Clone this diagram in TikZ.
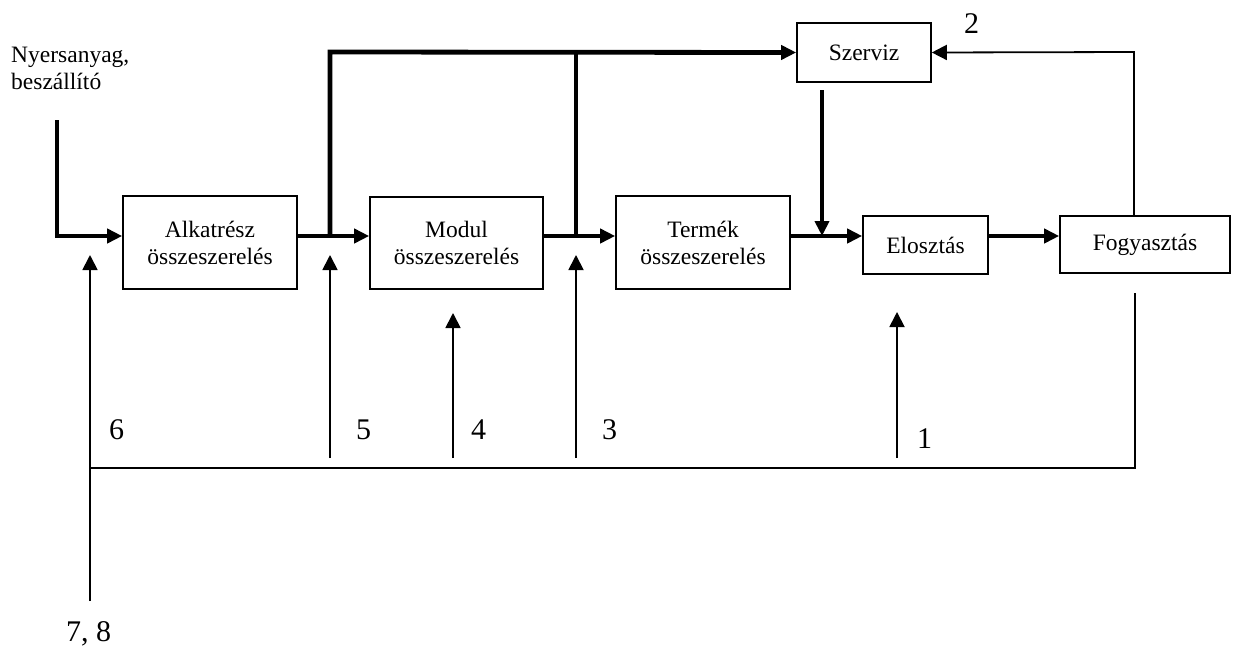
\documentclass[tikz,border=0pt]{standalone}
\usepackage{fontspec}
\setmainfont{Liberation Serif}
\usetikzlibrary{arrows.meta}
\begin{document}
\begin{tikzpicture}[x=1pt,y=-1pt,
  box/.style={draw,line width=1.6pt,inner sep=0pt,align=center,
    font=\fontsize{23.5}{27}\selectfont},
  flow/.style={line width=4.8pt,line join=miter,-{Triangle[length=15pt,width=14pt]}},
  flowplain/.style={line width=4.8pt,line join=miter},
  info/.style={line width=1.8pt,-{Triangle[length=15pt,width=15pt]}},
  infoplain/.style={line width=1.8pt},
  num/.style={anchor=base west,inner sep=0pt,font=\fontsize{30}{34}\selectfont},
  txt/.style={font=\fontsize{23.5}{27}\selectfont}]
\useasboundingbox (0,0) rectangle (1233,648);
% boxes
\node[box,minimum width=174pt,minimum height=93pt] (alk) at (210,242.5) {Alkatrész\\összeszerelés};
\node[box,minimum width=173pt,minimum height=92pt] (mod) at (456.5,243) {Modul\\összeszerelés};
\node[box,minimum width=174pt,minimum height=93pt] (ter) at (703,242.5) {Termék\\összeszerelés};
\node[box,minimum width=134pt,minimum height=59pt] (szv) at (864,52.5) {Szerviz};
\node[box,minimum width=125pt,minimum height=58pt] (elo) at (925.5,245) {Elosztás};
\node[box,minimum width=170pt,minimum height=57pt,text depth=4pt] (fog) at (1145,244.5) {Fogyasztás};
% labels
\node[txt,anchor=north west,align=left,inner sep=0pt] (nyers) at (11,47) {Nyersanyag,\\beszállító};
\node[num] (n2) at (964,33) {2};
\node[num] (n6) at (109,439) {6};
\node[num] (n5) at (356,439) {5};
\node[num] (n4) at (471,439) {4};
\node[num] (n3) at (602,439) {3};
\node[num] (n1) at (917,448) {1};
\node[num] (n78) at (66,641) {7, 8};
% coordinates
\coordinate (ly) at (0,236);
\coordinate (ty) at (0,52);
\coordinate (in0) at (57,120);
\coordinate (b1) at (330,236);
\coordinate (b2) at (576,236);
\coordinate (sd0) at (822,90);
\coordinate (sd1) at (822,236);
\coordinate (fx) at (1134,0);
\coordinate (by) at (0,468);
\coordinate (v6a) at (90,601);
\coordinate (v6b) at (90,255);
\coordinate (a5a) at (330,458);
\coordinate (a5b) at (330,255);
\coordinate (a4a) at (453,458);
\coordinate (a4b) at (453,313);
\coordinate (a3a) at (576,458);
\coordinate (a3b) at (576,255);
\coordinate (a1a) at (897,458);
\coordinate (a1b) at (897,312);
\coordinate (fb) at (1135,293);
% thick material flow
\draw[flow] (in0) -- (in0 |- ly) -- (alk.west |- ly);
\draw[flow] (alk.east |- ly) -- (mod.west |- ly);
\draw[flow] (mod.east |- ly) -- (ter.west |- ly);
\draw[flow] (ter.east |- ly) -- (elo.west |- ly);
\draw[flow] (elo.east |- ly) -- (fog.west |- ly);
\draw[flow] (b1) -- (b1 |- ty) -- (szv.west);
\draw[flowplain] (b2 |- ty) -- (b2);
\draw[flow] (sd0) -- (sd1);
% thin information flow
\draw[info] (fog.north -| fx) -- (fx |- ty) -- (szv.east);
\draw[infoplain] (fb) -- (fb |- by) -- (v6a |- by);
\draw[info] (v6a) -- (v6b);
\draw[info] (a5a) -- (a5b);
\draw[info] (a4a) -- (a4b);
\draw[info] (a3a) -- (a3b);
\draw[info] (a1a) -- (a1b);
\end{tikzpicture}
\end{document}
